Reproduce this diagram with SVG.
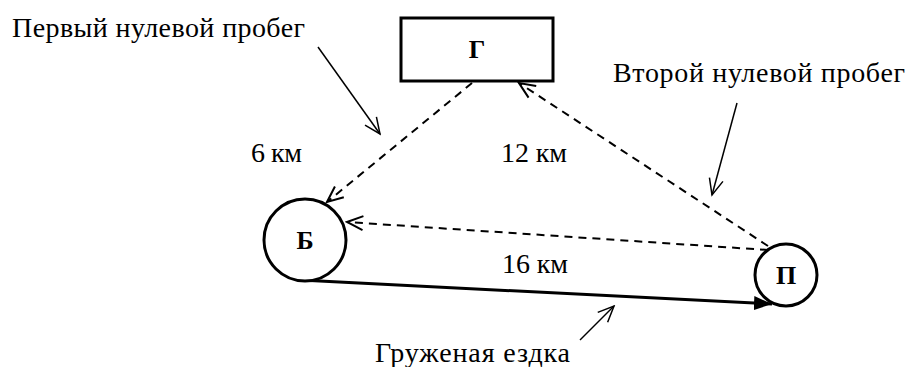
<svg xmlns="http://www.w3.org/2000/svg" width="909" height="367" viewBox="0 0 909 367">
<style>
.t{font-family:"Liberation Serif","Times New Roman",serif;font-size:28px;fill:#000;font-weight:normal}
.b{font-family:"Liberation Serif","Times New Roman",serif;font-weight:bold;font-size:26px;fill:#000}
.node{fill:#fff;stroke:#000;stroke-width:3}
.dash{fill:none;stroke:#000;stroke-width:2;stroke-dasharray:8 6}
.thin{fill:none;stroke:#000;stroke-width:1.5}
.load{fill:none;stroke:#000;stroke-width:3}
</style>
<defs>
<marker id="open" viewBox="0 0 20 20" refX="18" refY="10" markerWidth="20" markerHeight="20" markerUnits="userSpaceOnUse" orient="auto">
<path d="M2,3 L18,10 L2,17" fill="none" stroke="#000" stroke-width="2"/>
</marker>
<marker id="openThin" viewBox="0 0 20 20" refX="18" refY="10" markerWidth="20" markerHeight="20" markerUnits="userSpaceOnUse" orient="auto">
<path d="M2,3 L18,10 L2,17" fill="none" stroke="#000" stroke-width="1.5"/>
</marker>
<marker id="filled" viewBox="0 0 20 20" refX="18" refY="10" markerWidth="20" markerHeight="20" markerUnits="userSpaceOnUse" orient="auto">
<path d="M0,3 L18,10 L0,17 Z" fill="#000"/>
</marker>
</defs>
<g id="connectors">
<line class="dash" x1="472" y1="83" x2="327" y2="202" marker-end="url(#open)"/>
<line class="dash" x1="768" y1="246" x2="519" y2="83" marker-end="url(#open)"/>
<line class="dash" x1="768" y1="250" x2="347" y2="222" marker-end="url(#open)"/>
<line class="load" x1="300" y1="280" x2="772" y2="304" marker-end="url(#filled)"/>
<line class="thin" x1="318" y1="47" x2="380" y2="134" marker-end="url(#openThin)"/>
<line class="thin" x1="737" y1="103" x2="712" y2="195" marker-end="url(#openThin)"/>
<line class="thin" x1="580" y1="340" x2="614" y2="306" marker-end="url(#openThin)"/>
</g>
<g id="node-G">
<rect class="node" x="401" y="18" width="152" height="63"/>
<text class="b" x="477" y="58" text-anchor="middle">Г</text>
</g>
<g id="node-B">
<circle class="node" cx="305" cy="240" r="41"/>
<text class="b" x="305" y="249" text-anchor="middle">Б</text>
</g>
<g id="node-P">
<circle class="node" cx="786" cy="275" r="31"/>
<text class="b" x="786" y="284" text-anchor="middle">П</text>
</g>
<g id="labels" font-family="Liberation Serif, serif">
<text class="t" x="12" y="37" textLength="293">Первый нулевой пробег</text>
<text class="t" x="613" y="82" textLength="292">Второй нулевой пробег</text>
<text class="t" x="251" y="162" textLength="51">6 км</text>
<text class="t" x="501" y="162" textLength="66">12 км</text>
<text class="t" x="502" y="273" textLength="66">16 км</text>
<text class="t" x="375" y="362" textLength="195">Груженая ездка</text>
</g>
</svg>
